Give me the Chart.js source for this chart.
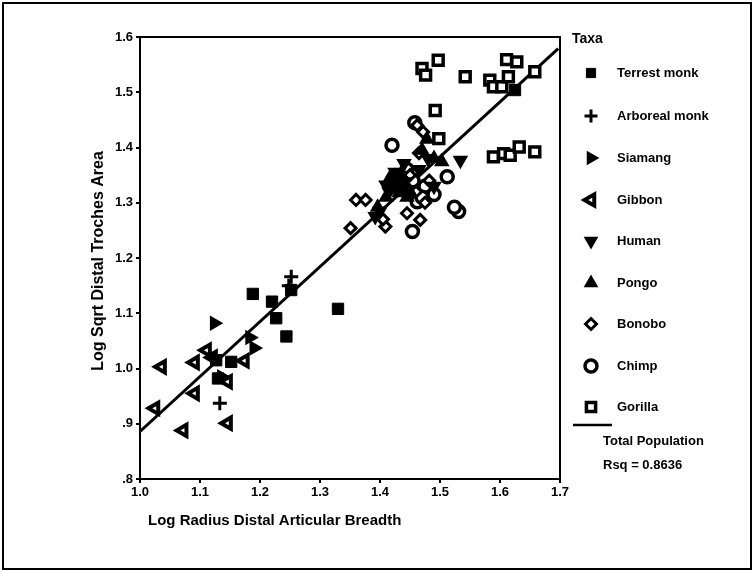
<!DOCTYPE html>
<html>
<head>
<meta charset="utf-8">
<script src="https://cdn.jsdelivr.net/npm/chart.js@4/dist/chart.umd.min.js"></script>
<style>
  html, body { margin: 0; padding: 0; background: #fff; }
  #wrap { position: relative; width: 754px; height: 572px; }
  canvas { display: block; }
</style>
</head>
<body>
<div id="wrap"><canvas id="c" width="754" height="572"></canvas></div>
<script>
// Log radius distal articular breadth (x) vs log sqrt distal trochlea area (y), by taxon
const terrestMonk = [[1.188,1.135],[1.220,1.121],[1.227,1.091],[1.244,1.058],[1.252,1.142],
  [1.330,1.108],[1.152,1.012],[1.127,1.015],[1.130,0.982],[1.625,1.504]];
const arborealMonk = [[1.133,0.937],[1.252,1.166],[1.248,1.150]];
const siamang = [[1.124,1.082],[1.183,1.056],[1.190,1.037],[1.136,0.985]];
const gibbon = [[1.036,1.003],[1.091,1.011],[1.111,1.033],[1.025,0.928],[1.091,0.955],
  [1.072,0.888],[1.146,0.901],[1.174,1.014],[1.146,0.976],[1.121,1.020]];
const human = [[1.534,1.377],[1.440,1.371],[1.465,1.360],[1.490,1.330],[1.430,1.340],
  [1.415,1.320],[1.480,1.380],[1.400,1.285],[1.392,1.275],[1.425,1.355],[1.420,1.330],
  [1.432,1.350],[1.410,1.332],[1.442,1.338],[1.447,1.322]];
const pongo = [[1.503,1.374],[1.478,1.415],[1.470,1.395],[1.420,1.345],[1.435,1.330],
  [1.410,1.310],[1.450,1.320],[1.396,1.292],[1.490,1.380],[1.428,1.325],[1.418,1.338],
  [1.425,1.348],[1.415,1.342],[1.432,1.318],[1.440,1.332],[1.437,1.346],[1.445,1.310]];
const bonobo = [[1.360,1.305],[1.376,1.305],[1.351,1.254],[1.409,1.257],[1.445,1.281],
  [1.467,1.269],[1.460,1.320],[1.475,1.300],[1.450,1.350],[1.465,1.390],[1.462,1.440],
  [1.472,1.428],[1.482,1.340],[1.405,1.270]];
const chimp = [[1.420,1.404],[1.454,1.248],[1.531,1.284],[1.524,1.292],[1.512,1.347],
  [1.462,1.302],[1.475,1.330],[1.458,1.445],[1.445,1.360],[1.490,1.315],[1.470,1.310],
  [1.455,1.340]];
const gorilla = [[1.470,1.543],[1.476,1.531],[1.497,1.558],[1.542,1.528],[1.492,1.467],
  [1.498,1.416],[1.583,1.522],[1.589,1.510],[1.603,1.510],[1.611,1.559],[1.628,1.555],
  [1.614,1.528],[1.658,1.537],[1.589,1.383],[1.606,1.389],[1.617,1.386],[1.632,1.401],
  [1.658,1.392]];
// Total population fit line, end points
const fitX = [1.0, 1.697];
const fitY = [0.886, 1.579];

const xTickLabels = ['1.0','1.1','1.2','1.3','1.4','1.5','1.6','1.7'];
const yTickLabels = ['.8','.9','1.0','1.1','1.2','1.3','1.4','1.5','1.6'];
const taxaNames = ['Terrest monk','Arboreal monk','Siamang','Gibbon','Human','Pongo','Bonobo','Chimp','Gorilla'];
const fitLabel = 'Total Population';
const rsqLabel = 'Rsq = 0.8636';

const pts = a => a.map(p => ({x: p[0], y: p[1]}));

const styles = [
  {pointStyle:'rect', radius:8, rotation:0, bg:'#000', bw:1},
  {pointStyle:'cross', radius:7, rotation:0, bg:'#000', bw:3},
  {pointStyle:'triangle', radius:7, rotation:90, bg:'#000', bw:2},
  {pointStyle:'triangle', radius:6.5, rotation:270, bg:'#fff', bw:4},
  {pointStyle:'triangle', radius:7, rotation:180, bg:'#000', bw:2},
  {pointStyle:'triangle', radius:7, rotation:0, bg:'#000', bw:2},
  {pointStyle:'rectRot', radius:5.5, rotation:0, bg:'#fff', bw:3},
  {pointStyle:'circle', radius:6, rotation:0, bg:'#fff', bw:3.5},
  {pointStyle:'rect', radius:7, rotation:0, bg:'#fff', bw:3.5}
];
const series = [terrestMonk, arborealMonk, siamang, gibbon, human, pongo, bonobo, chimp, gorilla];

const datasets = series.map((s, i) => ({
  label: taxaNames[i],
  data: pts(s),
  pointStyle: styles[i].pointStyle,
  pointRadius: styles[i].radius,
  pointRotation: styles[i].rotation,
  pointBackgroundColor: styles[i].bg,
  pointBorderColor: '#000',
  pointBorderWidth: styles[i].bw,
  showLine: false
}));
datasets.push({
  label: fitLabel,
  data: fitX.map((x, i) => ({x, y: fitY[i]})),
  showLine: true,
  borderColor: '#000',
  borderWidth: 3,
  pointRadius: 0,
  fill: false
});

function drawMarker(ctx, st, x, y) {
  const opts = {pointStyle: st.pointStyle, radius: st.radius, rotation: st.rotation, borderWidth: st.bw};
  ctx.save();
  ctx.fillStyle = st.bg;
  ctx.strokeStyle = '#000';
  ctx.lineWidth = st.bw;
  Chart.helpers.drawPoint(ctx, opts, x, y);
  ctx.restore();
}

const decor = {
  id: 'decor',
  afterDraw(chart) {
    const ctx = chart.ctx;
    const a = chart.chartArea;
    ctx.save();
    // plot frame
    ctx.strokeStyle = '#000';
    ctx.lineWidth = 2;
    ctx.strokeRect(a.left, a.top, a.right - a.left, a.bottom - a.top);
    // outer frame
    ctx.strokeRect(3, 3, 748, 566);

    ctx.fillStyle = '#000';
    // axis titles
    ctx.font = 'bold 15px "Liberation Sans", Arial, sans-serif';
    ctx.textAlign = 'left';
    ctx.textBaseline = 'middle';
    ctx.fillText('Log Radius Distal Articular Breadth', 148, 521);
    ctx.save();
    ctx.translate(99, 261);
    ctx.rotate(-Math.PI / 2);
    ctx.textAlign = 'center';
    ctx.font = 'bold 16px "Liberation Sans", Arial, sans-serif';
    ctx.fillText('Log Sqrt Distal Troches Area', 0, 0);
    ctx.restore();

    // legend
    ctx.font = 'bold 14px "Liberation Sans", Arial, sans-serif';
    ctx.textAlign = 'left';
    ctx.fillText('Taxa', 572, 39);
    ctx.font = 'bold 13px "Liberation Sans", Arial, sans-serif';
    const rowY = [73,116,158,200,241,283,324,366,407];
    taxaNames.forEach((n, i) => {
      drawMarker(ctx, Object.assign({}, styles[i], {radius: Math.min(styles[i].radius, 6.5)}), 591, rowY[i]);
      ctx.fillStyle = '#000';
      ctx.fillText(n, 617, rowY[i]);
    });
    ctx.lineWidth = 2.5;
    ctx.beginPath();
    ctx.moveTo(573, 425);
    ctx.lineTo(612, 425);
    ctx.stroke();
    ctx.fillText(fitLabel, 603, 441);
    ctx.fillText(rsqLabel, 603, 465);
    ctx.restore();
  }
};

const tickFont = {family: '"Liberation Sans", Arial, sans-serif', size: 13, weight: 'bold'};

new Chart(document.getElementById('c'), {
  type: 'scatter',
  data: {datasets},
  options: {
    responsive: false,
    devicePixelRatio: 1,
    animation: false,
    events: [],
    layout: {padding: {left: 0, top: 37, right: 194, bottom: 0}},
    plugins: {legend: {display: false}, tooltip: {enabled: false}},
    scales: {
      x: {
        type: 'linear', min: 1.0, max: 1.7,
        afterFit: s => { s.height = 93; },
        grid: {display: true, drawOnChartArea: false, drawTicks: true, tickLength: 4, color: '#000', lineWidth: 2},
        border: {display: true, color: '#000', width: 2},
        ticks: {stepSize: 0.1, color: '#000', font: tickFont, padding: 2, maxRotation: 0,
          callback: (v, i) => xTickLabels[i]}
      },
      y: {
        type: 'linear', min: 0.8, max: 1.6,
        afterFit: s => { s.width = 140; },
        grid: {display: true, drawOnChartArea: false, drawTicks: true, tickLength: 4, color: '#000', lineWidth: 2},
        border: {display: true, color: '#000', width: 2},
        ticks: {stepSize: 0.1, color: '#000', font: tickFont, padding: 3,
          callback: (v, i) => yTickLabels[i]}
      }
    }
  },
  plugins: [decor]
});
</script>
</body>
</html>
